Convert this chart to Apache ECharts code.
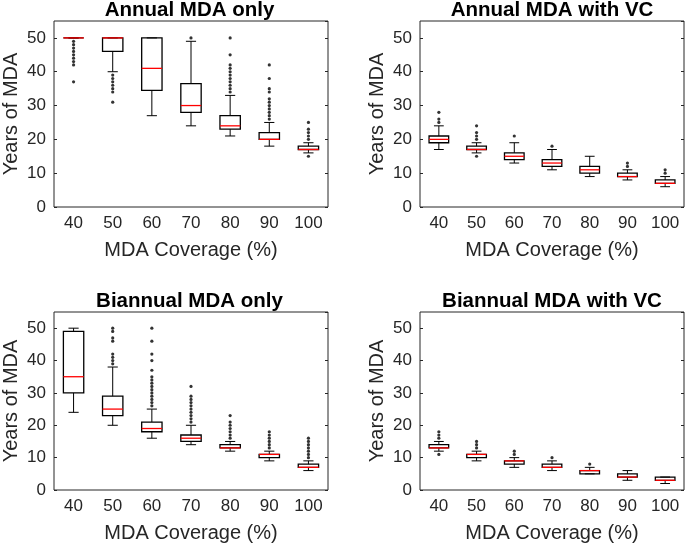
<!DOCTYPE html>
<html>
<head>
<meta charset="utf-8">
<script src="https://cdn.jsdelivr.net/npm/echarts@6/dist/echarts.min.js"></script>
<style>
  html, body { margin: 0; padding: 0; background: #fff; }
  #chart { width: 685px; height: 546px; }
</style>
</head>
<body>
<div id="chart"></div>
<script>
// x categories
const coverage = ['40', '50', '60', '70', '80', '90', '100']
const titles = ['Annual MDA only', 'Annual MDA with VC', 'Biannual MDA only', 'Biannual MDA with VC']

// each box: [lower whisker, Q1, median, Q3, upper whisker]
const annualOnly = [[50, 50, 50, 50, 50], [40, 46, 50, 50, 50], [27, 34.5, 41, 50, 50], [24, 28, 30, 36.5, 49], [21, 23, 24, 27, 33], [18, 20, 20, 22, 25], [16, 17, 17, 18, 19]]
const annualOnlyOut = [[49, 48, 47, 46, 45, 44, 43, 42, 37], [39, 38, 37, 36, 35, 34, 31], [], [50], [34, 35, 36, 37, 38, 39, 40, 41, 42, 45, 50], [26, 27, 28, 29, 30, 31, 32, 34, 35, 38, 42], [20, 21, 22, 23, 25, 15]]

const annualVC = [[17, 19, 20, 21, 24], [16, 17, 17, 18, 19], [13, 14, 15, 16, 19], [11, 12, 13, 14, 17], [9, 10, 11, 12, 15], [8, 9, 9, 10, 11], [6, 7, 7, 8, 9]]
const annualVCOut = [[25, 26, 28], [20, 21, 22, 24, 15], [21], [18], [], [12, 13], [10, 11]]

const biannualOnly = [[24, 30, 35, 49, 50], [20, 23, 25, 29, 38], [16, 18, 19, 21, 25], [14, 15, 16, 17, 20], [12, 13, 13, 14, 15], [9, 10, 11, 11, 12], [6, 7, 7, 8, 9]]
const biannualOnlyOut = [[], [39, 40, 41, 42, 46, 47, 49, 50], [26, 27, 28, 29, 30, 31, 32, 33, 34, 35, 37, 40, 42, 46, 50], [21, 22, 23, 24, 25, 26, 27, 28, 29, 32], [16, 17, 18, 19, 20, 21, 23], [13, 14, 15, 16, 17, 18], [10, 11, 12, 13, 14, 15, 16]]

const biannualVC = [[12, 13, 13, 14, 15], [9, 10, 11, 11, 12], [7, 8, 9, 9, 10], [6, 7, 7, 8, 9], [5, 5, 6, 6, 7], [3, 4, 4, 5, 6], [2, 3, 3, 4, 4]]
const biannualVCOut = [[16, 17, 18, 11], [13, 14, 15], [11, 12], [10], [8], [], []]

const boxes = [annualOnly, annualVC, biannualOnly, biannualVC]
const outliers = [annualOnlyOut, annualVCOut, biannualOnlyOut, biannualVCOut]

const font = 'Liberation Sans, Arial, Helvetica, sans-serif'
const ink = '#262626'

const grids = [
  { left: 51, top: 21, width: 277, height: 186 },
  { left: 420, top: 21, width: 264, height: 186 },
  { left: 51, top: 312, width: 277, height: 178 },
  { left: 420, top: 312, width: 264, height: 178 }
]

// box + whiskers + red median, drawn MATLAB style
function renderBox (params, api) {
  const i = api.value(0)
  const lo = api.coord([i, api.value(1)])
  const q1 = api.coord([i, api.value(2)])
  const md = api.coord([i, api.value(3)])
  const q3 = api.coord([i, api.value(4)])
  const hi = api.coord([i, api.value(5)])
  const bw = api.size([1, 0])[0] * 0.52
  const cx = lo[0]
  const black = { stroke: '#000', lineWidth: 1 }
  return {
    type: 'group',
    children: [
      { type: 'line', shape: { x1: cx, y1: hi[1], x2: cx, y2: q3[1] }, style: black },
      { type: 'line', shape: { x1: cx, y1: q1[1], x2: cx, y2: lo[1] }, style: black },
      { type: 'line', shape: { x1: cx - bw / 4, y1: hi[1], x2: cx + bw / 4, y2: hi[1] }, style: black },
      { type: 'line', shape: { x1: cx - bw / 4, y1: lo[1], x2: cx + bw / 4, y2: lo[1] }, style: black },
      { type: 'rect', shape: { x: cx - bw / 2, y: q3[1], width: bw, height: q1[1] - q3[1] }, style: { fill: 'none', stroke: '#000', lineWidth: 1.3 } },
      { type: 'line', shape: { x1: cx - bw / 2, y1: md[1], x2: cx + bw / 2, y2: md[1] }, style: { stroke: '#ff0000', lineWidth: 1.3 } }
    ]
  }
}

const chart = echarts.init(document.getElementById('chart'))

const title = []
const xAxis = []
const yAxis = []
const series = []

grids.forEach((g, k) => {
  title.push({
    text: titles[k],
    left: g.left + g.width / 2,
    top: k < 2 ? 0 : 291,
    padding: 0,
    textAlign: 'center',
    textStyle: { fontFamily: font, fontSize: 20.5, fontWeight: 'bold', color: '#000' }
  })
  // bottom axis with labels
  xAxis.push({
    type: 'category',
    gridIndex: k,
    data: coverage,
    name: 'MDA Coverage (%)',
    nameLocation: 'middle',
    nameGap: 33,
    nameTextStyle: { fontFamily: font, fontSize: 20, color: ink },
    axisLine: { show: false },
    axisTick: { inside: true, alignWithLabel: true, length: 3, lineStyle: { color: ink } },
    axisLabel: { fontFamily: font, fontSize: 17, color: ink, margin: 8 },
    splitLine: { show: false }
  })
  // top axis, ticks only
  xAxis.push({
    type: 'category',
    gridIndex: k,
    position: 'top',
    data: coverage,
    axisLine: { show: false },
    axisTick: { inside: true, alignWithLabel: true, length: 3, lineStyle: { color: ink } },
    axisLabel: { show: false },
    splitLine: { show: false }
  })
  yAxis.push({
    type: 'value',
    gridIndex: k,
    min: 0,
    max: 55,
    interval: 10,
    name: 'Years of MDA',
    nameLocation: 'middle',
    nameGap: 33,
    nameTextStyle: { fontFamily: font, fontSize: 20, color: ink },
    axisLine: { show: false },
    axisTick: { show: true, inside: true, length: 3, lineStyle: { color: ink } },
    axisLabel: { fontFamily: font, fontSize: 17, color: ink, showMaxLabel: false },
    splitLine: { show: false }
  })
  yAxis.push({
    type: 'value',
    gridIndex: k,
    position: 'right',
    min: 0,
    max: 55,
    interval: 10,
    axisLine: { show: false },
    axisTick: { show: true, inside: true, length: 3, lineStyle: { color: ink } },
    axisLabel: { show: false },
    splitLine: { show: false }
  })

  series.push({
    type: 'custom',
    xAxisIndex: 2 * k,
    yAxisIndex: 2 * k,
    renderItem: renderBox,
    encode: { x: 0, y: [1, 2, 3, 4, 5] },
    data: boxes[k].map((b, i) => [i].concat(b)),
    silent: true
  })
  const pts = []
  outliers[k].forEach((list, i) => list.forEach(v => pts.push([i, v])))
  series.push({
    type: 'scatter',
    xAxisIndex: 2 * k,
    yAxisIndex: 2 * k,
    symbol: 'circle',
    symbolSize: 3.2,
    itemStyle: { color: '#000' },
    data: pts,
    silent: true,
    z: 3
  })
})

chart.setOption({
  animation: false,
  backgroundColor: '#fff',
  title: title,
  grid: grids.map(g => Object.assign({ show: true, borderColor: ink, borderWidth: 1, backgroundColor: 'transparent' }, g)),
  xAxis: xAxis,
  yAxis: yAxis,
  series: series
})
</script>
</body>
</html>
